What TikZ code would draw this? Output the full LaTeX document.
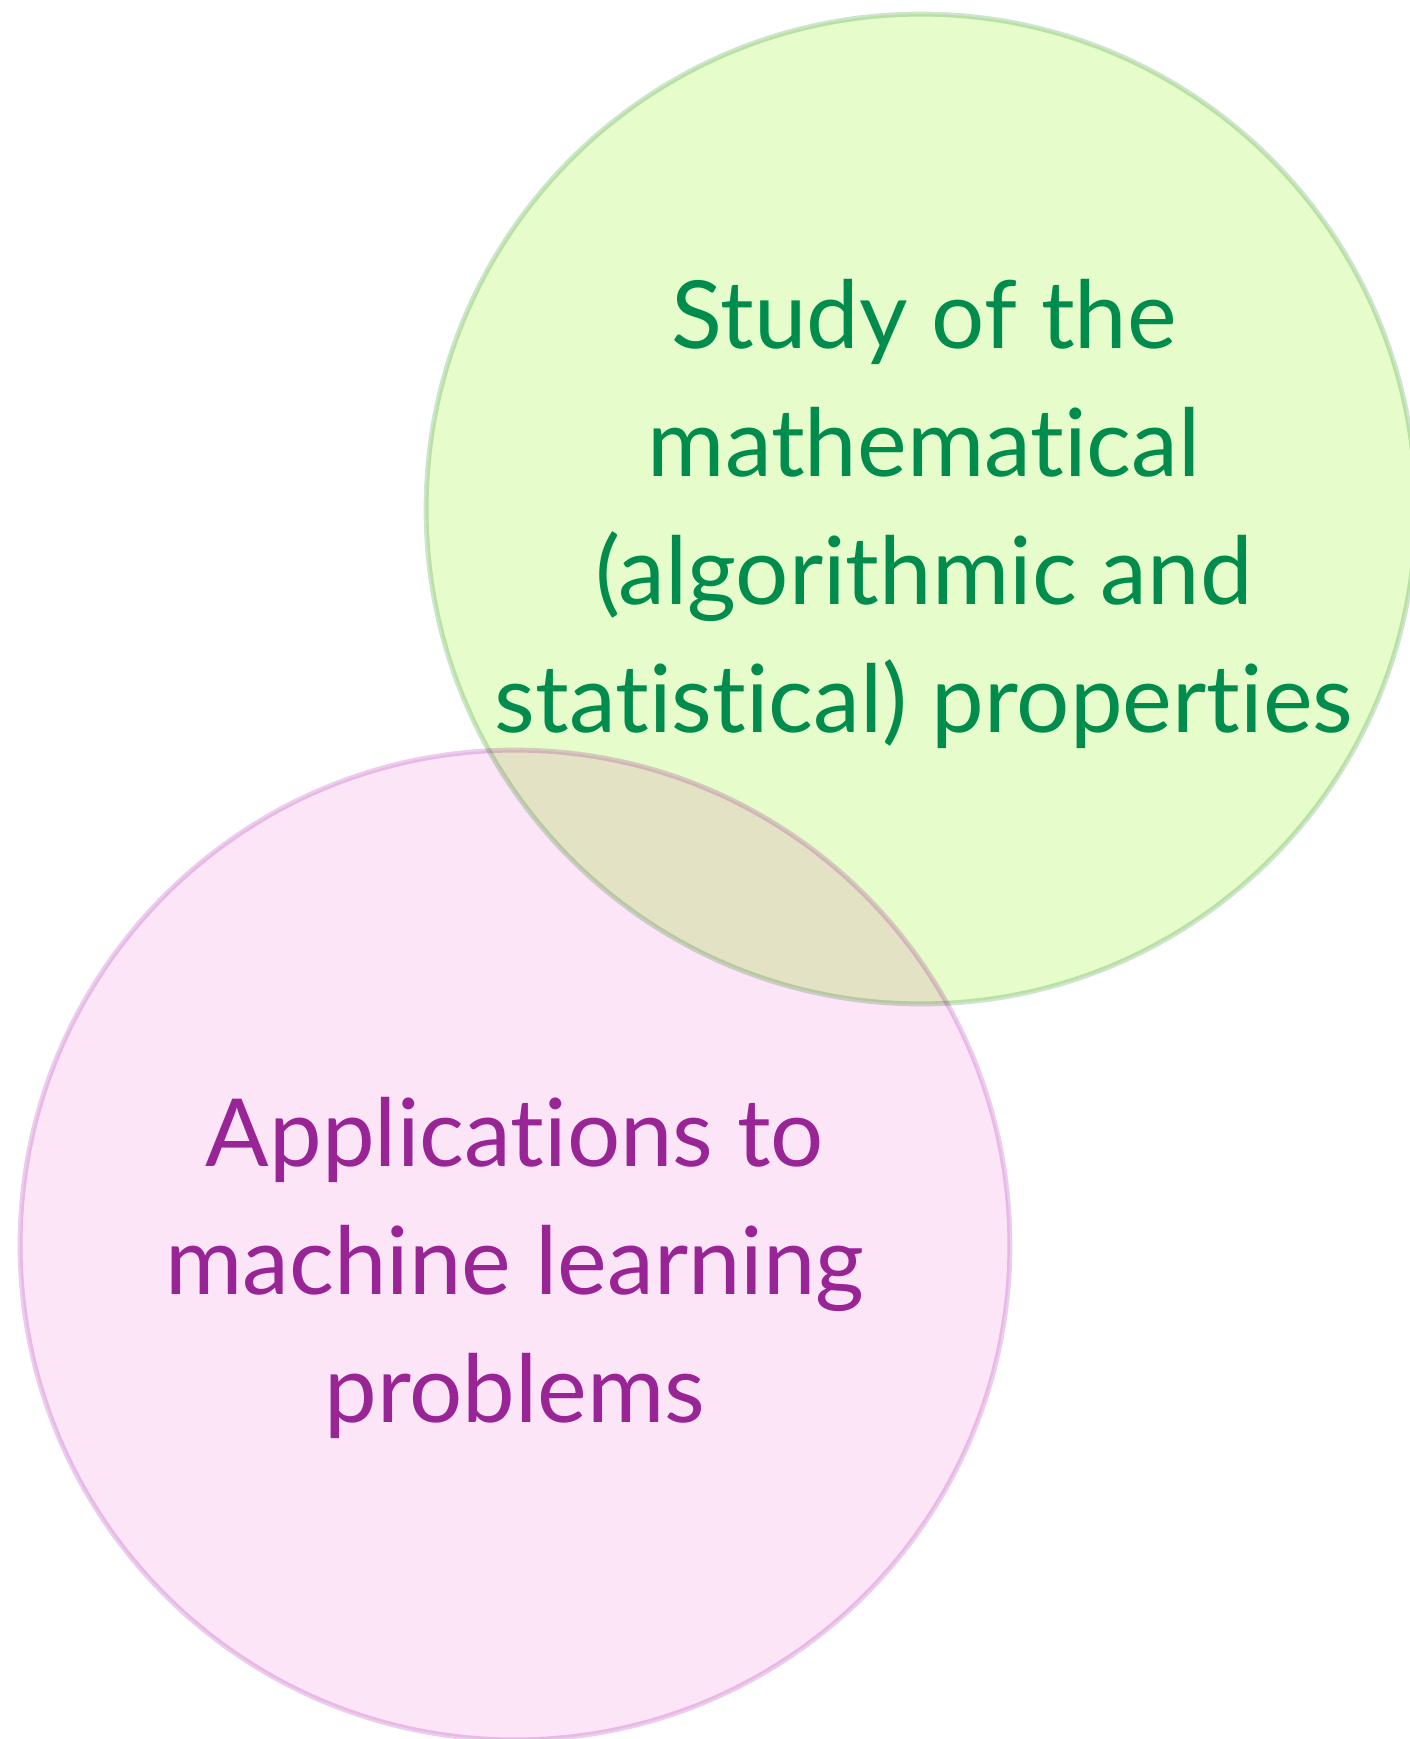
\documentclass[tikz,border=0pt]{standalone}
\usepackage{fontspec}
\setmainfont{Lato}[Ligatures=NoCommon]
\usetikzlibrary{positioning}

\definecolor{theoryfill}{RGB}{230,252,203}
\definecolor{theoryline}{RGB}{205,228,205}
\definecolor{theorytext}{RGB}{0,140,76}
\definecolor{appfill}{RGB}{253,229,248}
\definecolor{appline}{RGB}{235,205,237}
\definecolor{apptext}{RGB}{152,36,150}

\begin{document}
\begin{tikzpicture}[
    x=0.02cm, y=-0.02cm,
    % Estilos dos circulos e textos
    every node/.style={font=\fontsize{53.5}{72.8}\selectfont, align=center},
    area/.style={circle, line width=2.8pt, minimum size=19.8cm, inner sep=0pt},
    theory/.style={area, draw=theoryline, fill=theoryfill},
    app/.style={area, draw=appline, fill=appfill},
]
\useasboundingbox (0,0) rectangle (1410,1739);

% Circulos
\begin{scope}[blend mode=multiply]
\node[theory] (theory) at (921,509) {};
\node[app] (app) at (515,1245) {};
\end{scope}

% Textos
\node[text=theorytext] (theorylabel) at (924,514) {Study of the\\mathematical\\(algorithmic and\\statistical) properties};
\node[text=apptext] (applabel) at (515,1268) {Applications to\\machine learning\\problems};

\end{tikzpicture}
\end{document}
